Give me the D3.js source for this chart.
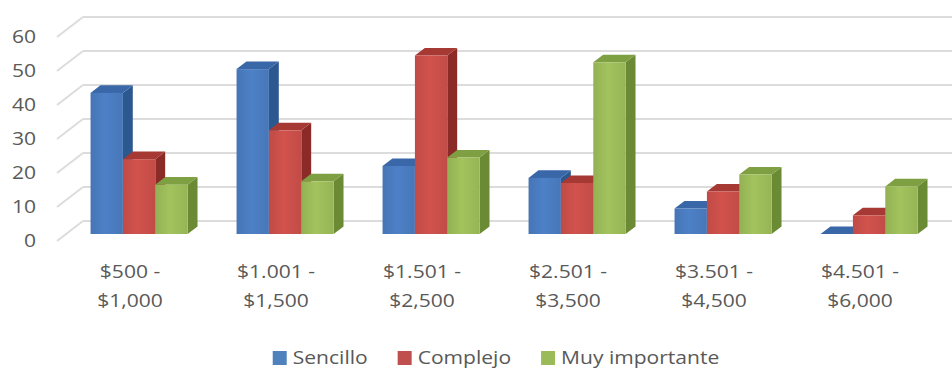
<!DOCTYPE html>
<html>
<head>
<meta charset="utf-8">
<script src="https://cdn.jsdelivr.net/npm/d3@7"></script>
<style>
  html, body { margin: 0; padding: 0; background: #ffffff; }
  svg { display: block; }
  text { font-family: "Open Sans", "Noto Sans", sans-serif; fill: #595959; }
</style>
</head>
<body>
<svg id="chart" width="952" height="369"></svg>
<script>
// Price ranges (two-line labels) and survey values per series
const categories = [
  ["$500 -", "$1,000"],
  ["$1.001 -", "$1,500"],
  ["$1.501 -", "$2,500"],
  ["$2.501 -", "$3,500"],
  ["$3.501 -", "$4,500"],
  ["$4.501 -", "$6,000"]
];
const seriesNames = ["Sencillo", "Complejo", "Muy importante"];
const sencillo = [41.5, 48.5, 20, 16.5, 7.5, 0];
const complejo = [22, 30.5, 52.5, 15, 12.5, 5.5];
const muyImportante = [14.5, 15.5, 22.5, 50.5, 17.5, 14];
const yTicks = [0, 10, 20, 30, 40, 50, 60];

const seriesValues = [sencillo, complejo, muyImportante];
const palette = [
  { front: "#4a7bbf", side: "#2c5890", top: "#3a67a8", legend: "#4f81bd" },
  { front: "#c94f4a", side: "#8b2a27", top: "#a63934", legend: "#c0504d" },
  { front: "#9bbb59", side: "#6a8a34", top: "#7e9f42", legend: "#9bbb59" }
];

const W = 952, H = 369;
const svg = d3.select("#chart");
const textScaleX = 1.17;

// Oblique projection: depth t in [0,1] moves points up and to the right
const depth = { dx: 26, dy: -20 };
const barDepth = { front: 0.35, back: 0.73 };
const proj = (x, y, t) => [x + depth.dx * t, y + depth.dy * t];

const x = d3.scaleBand()
  .domain(d3.range(categories.length))
  .range([57, 933])
  .paddingInner(0.335)
  .paddingOuter(0.1675);
const xSub = d3.scaleBand()
  .domain(d3.range(seriesNames.length))
  .range([0, x.bandwidth()])
  .padding(0);
const y = d3.scaleLinear().domain([0, 60]).range([241, 37]);

// Gridlines: back wall (horizontal) and left side wall (diagonal)
const grid = svg.append("g").attr("class", "grid");
const wallLeft = x.range()[0];
yTicks.forEach(v => {
  const [bx, by] = proj(wallLeft, y(v), 1);
  grid.append("line")
    .attr("x1", bx).attr("y1", by).attr("x2", W + 10).attr("y2", by)
    .attr("stroke", "#dcdcdc").attr("stroke-width", 2);
  grid.append("line")
    .attr("x1", wallLeft).attr("y1", y(v)).attr("x2", bx).attr("y2", by)
    .attr("stroke", "#dcdcdc").attr("stroke-width", 2);
});

// Y axis labels on the front plane
svg.append("g").selectAll("text")
  .data(yTicks)
  .join("text")
  .attr("transform", d => `translate(36,${y(d) + 1}) scale(${textScaleX},1)`)
  .attr("text-anchor", "end")
  .attr("dominant-baseline", "middle")
  .style("font-size", "18px")
  .text(d => d);

// Front face shading
const defs = svg.append("defs");
palette.forEach((p, i) => {
  const g = defs.append("linearGradient").attr("id", "front" + i)
    .attr("x1", "0").attr("x2", "1").attr("y1", "0").attr("y2", "0");
  const c = d3.color(p.front);
  g.append("stop").attr("offset", "0%").attr("stop-color", c.darker(0.15));
  g.append("stop").attr("offset", "45%").attr("stop-color", c.brighter(0.12));
  g.append("stop").attr("offset", "100%").attr("stop-color", c.darker(0.1));
});

// 3D columns
const bars = svg.append("g").attr("class", "bars");
const poly = pts => "M" + pts.map(p => p.join(",")).join("L") + "Z";
categories.forEach((cat, ci) => {
  seriesValues.forEach((vals, si) => {
    const v = vals[ci];
    const x0 = x(ci) + xSub(si);
    const x1 = x0 + xSub.bandwidth();
    const yTop = y(v), yBase = y(0);
    const tf = barDepth.front, tb = barDepth.back;
    const g = bars.append("g");
    // right side
    g.append("path")
      .attr("d", poly([proj(x1, yBase, tf), proj(x1, yTop, tf), proj(x1, yTop, tb), proj(x1, yBase, tb)]))
      .attr("fill", palette[si].side);
    // top
    g.append("path")
      .attr("d", poly([proj(x0, yTop, tf), proj(x1, yTop, tf), proj(x1, yTop, tb), proj(x0, yTop, tb)]))
      .attr("fill", palette[si].top);
    // front
    const [fx, fy] = proj(x0, yTop, tf);
    const [, fb] = proj(x0, yBase, tf);
    g.append("rect")
      .attr("x", fx).attr("y", fy)
      .attr("width", x1 - x0).attr("height", Math.max(0, fb - fy))
      .attr("fill", `url(#front${si})`);
  });
});

// Category labels (two lines) on the front edge
const catG = svg.append("g");
categories.forEach((lines, ci) => {
  const cx = x(ci) + x.bandwidth() / 2;
  lines.forEach((line, li) => {
    catG.append("text")
      .attr("transform", `translate(${cx},${273 + li * 29}) scale(${textScaleX},1)`)
      .attr("text-anchor", "middle")
      .attr("dominant-baseline", "middle")
      .style("font-size", "18px")
      .text(line);
  });
});

// Legend, centred under the plot
const legend = svg.append("g");
const items = seriesNames.map((name, i) => {
  const g = legend.append("g");
  g.append("rect").attr("width", 14).attr("height", 14).attr("y", -7)
    .attr("fill", palette[i].legend);
  const t = g.append("text")
    .attr("transform", `translate(20,1) scale(${textScaleX},1)`)
    .attr("dominant-baseline", "middle")
    .style("font-size", "18px")
    .text(name);
  const w = 20 + t.node().getComputedTextLength() * textScaleX;
  return { g, w };
});
const gap = 30;
const total = d3.sum(items, d => d.w) + gap * (items.length - 1);
let lx = 496 - total / 2;
items.forEach(it => {
  it.g.attr("transform", `translate(${lx},358)`);
  lx += it.w + gap;
});
</script>
</body>
</html>
